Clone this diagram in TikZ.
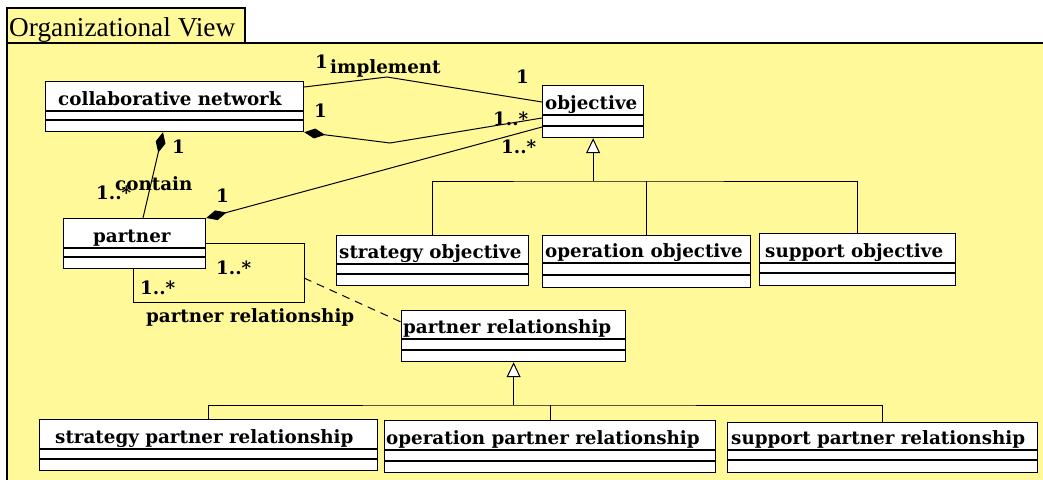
\documentclass[tikz,border=0pt]{standalone}
\usepackage{fontspec}
\usetikzlibrary{arrows.meta,calc}
\newfontfamily\titlefont{Liberation Serif}
\newfontfamily\umlfamily{DejaVu Serif}
\newcommand\umlfont{\umlfamily\bfseries\fontsize{18.3}{21}\selectfont}
\definecolor{pkgyellow}{RGB}{255,249,153}

\tikzset{
  pkg/.style={draw=black, fill=pkgyellow, line width=2pt},
  classbox/.style={draw=black, fill=white, line width=1.2pt, inner sep=0pt, anchor=north west},
  classsep/.style={line width=1.2pt},
  classtext/.style={font=\umlfont, inner sep=0pt, anchor=base west},
  lbl/.style={font=\umlfont, inner sep=0pt, anchor=base west},
  assoc/.style={line width=1pt},
  compo/.style={assoc, {Diamond[length=21pt, width=10pt, fill=black]}-},
  genarrow/.style={line width=1pt, -{Triangle[open, length=15pt, width=14pt, fill=white]}},
  genline/.style={line width=1pt},
  dep/.style={line width=1pt, dash pattern=on 8pt off 6pt},
}

% class box: name, left, top, right, bottom, first rule, second rule, text x, class name
\newcommand\umlclass[9]{%
  \node[classbox, minimum width={#4-#2}, minimum height={#5-#3}] (#1) at (#2,#3) {};
  \draw[classsep] (#2,#6) -- (#4,#6) (#2,#7) -- (#4,#7);
  \node[classtext] (#1-name) at (#8,#6-6) {#9};
}

\begin{document}
\begin{tikzpicture}[x=1pt, y=-1pt]
\clip (0,0) rectangle (1043,479);
\fill[white] (0,0) rectangle (1043,479);

% package frame with its tab
\draw[pkg] (7,43) rectangle (1060,500);
\draw[pkg] (7,8) rectangle (245,43);
\node[font=\titlefont\fontsize{27.3}{30}\selectfont, inner sep=0pt, anchor=base west] (title) at (9,36) {Organizational View};

% classes
\umlclass{cn}{45}{81}{303}{131}{111}{120}{58}{collaborative network}
\umlclass{obj}{542}{85}{643}{137}{115}{126}{545}{objective}
\umlclass{pt}{63}{218}{205}{268}{248}{257}{93}{partner}
\umlclass{so}{336}{235}{528}{285}{264}{274}{339}{strategy objective}
\umlclass{oo}{542}{235}{750}{287}{263}{275}{545}{operation objective}
\umlclass{su}{759}{233}{955}{285}{263}{273}{765}{support objective}
\umlclass{pr}{401}{310}{625}{361}{339}{350}{403}{partner relationship}
\umlclass{spr}{39}{419}{377}{470}{449}{459}{55}{strategy partner relationship}
\umlclass{opr}{384}{420}{715}{472}{450}{461}{386}{operation partner relationship}
\umlclass{supr}{727}{422}{1037}{472}{450}{460}{731}{support partner relationship}

% implement association
\coordinate (impbend) at (387,77);
\draw[assoc] (cn.east |- 0,87) -- (impbend) -- (obj.west |- 0,102);
\node[lbl] (m1) at (315,68) {1};
\node[lbl] (implbl) at (330,73) {implement};
\node[lbl] (m2) at (516,83) {1};

% network is composed of objectives
\coordinate (compbend) at (390,143);
\draw[compo] (cn.south east) -- (compbend) -- (obj.west |- 0,118);
\node[lbl] (m3) at (314,117) {1};
\node[lbl] (m4) at (493,125) {1..*};

% partner is composed of objectives
\draw[compo] (pt.north east) -- (obj.west |- 0,127);
\node[lbl] (m5) at (216,202) {1};
\node[lbl] (m6) at (501,153) {1..*};

% contain
\draw[compo] (163,0 |- cn.south) -- (143,0 |- pt.north);
\node[lbl] (m7) at (172,153) {1};
\node[lbl] (m8) at (96,199) {1..*};
\node[lbl] (containlbl) at (115,190) {contain};

% partner relationship self association
\coordinate (sa1) at (304,243);
\coordinate (sa2) at (304,302);
\coordinate (sa3) at (133,302);
\draw[assoc] (pt.east |- sa1) -- (sa1) -- (sa2) -- (sa3) -- (sa3 |- pt.south);
\node[lbl] (m9) at (216,274) {1..*};
\node[lbl] (m10) at (140,294) {1..*};
\node[lbl] (prlbl) at (146,322) {partner relationship};

% association class link
\coordinate (acl) at (304,278);
\draw[dep] (acl) -- (pr.west |- 0,322);

% objective specialisations
\coordinate (objbar) at (obj.south |- 0,181);
\draw[genarrow] (objbar) -- (obj.south);
\draw[genline] (so.north) |- (objbar) -- (su.north |- objbar) -- (su.north);
\draw[genline] (oo.north) -- (oo.north |- objbar);

% partner relationship specialisations
\coordinate (prbar) at (pr.south |- 0,405);
\draw[genarrow] (prbar) -- (pr.south);
\draw[genline] (spr.north) |- (prbar) -- (supr.north |- prbar) -- (supr.north);
\draw[genline] (opr.north) -- (opr.north |- prbar);
\end{tikzpicture}
\end{document}
